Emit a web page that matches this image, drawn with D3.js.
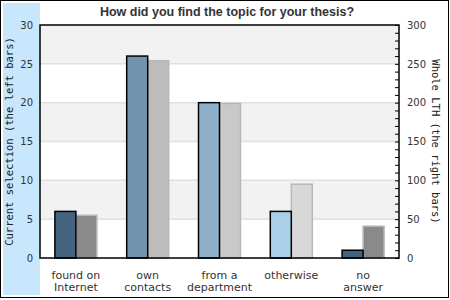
<!DOCTYPE html>
<html>
<head>
<meta charset="utf-8">
<script src="https://cdn.jsdelivr.net/npm/d3@7"></script>
<style>
  body { margin: 0; background: #fff; }
  svg { display: block; }
</style>
</head>
<body>
<svg id="chart" width="450" height="300"></svg>
<script>
// data
const categories = ["found on|Internet", "own|contacts", "from a|department", "otherwise", "no|answer"];
const currentSelection = [6, 26, 20, 6, 1];      // left axis, 0-30
const wholeLTH = [55, 254, 199, 95, 41];          // right axis, 0-300
const leftTicks = [0, 5, 10, 15, 20, 25, 30];
const rightTicks = [0, 50, 100, 150, 200, 250, 300];

const leftColors = ["#43637f", "#7394ae", "#8fb0cb", "#abcfe9", "#43637f"];
const rightColors = ["#8a8a8a", "#bdbdbd", "#c9c9c9", "#d8d8d8", "#8a8a8a"];

const svg = d3.select("#chart");
const margin = { left: 40, top: 25, right: 399, bottom: 258 };

// outer frame + left panel
svg.append("rect")
  .attr("x", 0.5).attr("y", 0.5)
  .attr("width", 448).attr("height", 297)
  .attr("fill", "#fff").attr("stroke", "#000");

svg.append("rect")
  .attr("x", 3).attr("y", 3)
  .attr("width", 37).attr("height", 292)
  .attr("fill", "#c8e7fc");

const x = d3.scaleBand()
  .domain(categories)
  .range([margin.left, margin.right])
  .paddingInner(0.415)
  .paddingOuter(0.2075);

const sub = d3.scaleBand()
  .domain(["left", "right"])
  .range([0, x.bandwidth()]);

const yL = d3.scaleLinear().domain([0, 30]).range([margin.bottom, margin.top]);
const yR = d3.scaleLinear().domain([0, 300]).range([margin.bottom, margin.top]);

// alternating background bands
const bands = d3.pairs(leftTicks);
svg.selectAll(".band")
  .data(bands)
  .enter()
  .append("rect")
  .attr("x", margin.left)
  .attr("width", margin.right - margin.left)
  .attr("y", d => yL(d[1]))
  .attr("height", d => yL(d[0]) - yL(d[1]))
  .attr("fill", (d, i) => i % 2 ? "#f2f2f2" : "#fff");

// gridlines
svg.selectAll(".grid")
  .data(leftTicks.slice(1, -1))
  .enter()
  .append("line")
  .attr("x1", margin.left).attr("x2", margin.right)
  .attr("y1", d => yL(d)).attr("y2", d => yL(d))
  .attr("stroke", "#e0e0e0")
  .attr("stroke-width", 1.5);

// bars
const groups = svg.selectAll(".group")
  .data(categories)
  .enter()
  .append("g")
  .attr("transform", d => `translate(${x(d)},0)`);

groups.append("rect")
  .attr("x", sub("right"))
  .attr("width", sub.bandwidth())
  .attr("y", (d, i) => yR(wholeLTH[i]))
  .attr("height", (d, i) => yR(0) - yR(wholeLTH[i]))
  .attr("fill", (d, i) => rightColors[i])
  .attr("stroke", "#b8b8b8")
  .attr("stroke-width", 1.5);

groups.append("rect")
  .attr("x", sub("left"))
  .attr("width", sub.bandwidth())
  .attr("y", (d, i) => yL(currentSelection[i]))
  .attr("height", (d, i) => yL(0) - yL(currentSelection[i]))
  .attr("fill", (d, i) => leftColors[i])
  .attr("stroke", "#000")
  .attr("stroke-width", 1.5);

// plot frame
svg.append("rect")
  .attr("x", margin.left).attr("y", margin.top)
  .attr("width", margin.right - margin.left)
  .attr("height", margin.bottom - margin.top)
  .attr("fill", "none")
  .attr("stroke", "#000")
  .attr("stroke-width", 1.5);

// left axis labels
svg.append("g")
  .attr("transform", `translate(${margin.left},0)`)
  .call(d3.axisLeft(yL).tickValues(leftTicks).tickSize(0).tickPadding(7))
  .call(g => g.select(".domain").remove())
  .selectAll("text")
  .attr("font-family", "DejaVu Sans")
  .attr("font-size", 10)
  .attr("fill", "#333");

// right axis: minor ticks every 10, labels every 50
svg.append("g")
  .attr("transform", `translate(${margin.right},0)`)
  .call(d3.axisLeft(yR).ticks(30).tickSize(4).tickFormat(""))
  .call(g => g.select(".domain").remove())
  .selectAll("line").attr("stroke", "#000");

svg.append("g")
  .attr("transform", `translate(${margin.right},0)`)
  .call(d3.axisRight(yR).tickValues(rightTicks).tickSize(0).tickPadding(8))
  .call(g => g.select(".domain").remove())
  .selectAll("text")
  .attr("font-family", "DejaVu Sans")
  .attr("font-size", 10)
  .attr("fill", "#333");

// category labels
const xLabels = svg.selectAll(".xlabel")
  .data(categories)
  .enter()
  .append("text")
  .attr("text-anchor", "middle")
  .attr("font-family", "DejaVu Sans")
  .attr("font-size", 11)
  .attr("fill", "#333");

xLabels.selectAll("tspan")
  .data(d => d.split("|").map(t => ({ t, c: d })))
  .enter()
  .append("tspan")
  .attr("x", d => x(d.c) + x.bandwidth() / 2)
  .attr("y", (d, i) => 278.5 + i * 12.5)
  .text(d => d.t);

// title
svg.append("text")
  .attr("x", 227)
  .attr("y", 16)
  .attr("text-anchor", "middle")
  .attr("font-family", "Liberation Sans, Arial, sans-serif")
  .attr("font-weight", "bold")
  .attr("font-size", 12.5)
  .attr("fill", "#333")
  .text("How did you find the topic for your thesis?");

// axis titles
const midY = (margin.top + margin.bottom) / 2;
svg.append("text")
  .attr("transform", `translate(13,${midY}) rotate(-90)`)
  .attr("text-anchor", "middle")
  .attr("font-family", "DejaVu Sans Mono")
  .attr("font-size", 10.5)
  .attr("fill", "#222")
  .text("Current selection (the left bars)");

svg.append("text")
  .attr("transform", `translate(432,${midY}) rotate(90)`)
  .attr("text-anchor", "middle")
  .attr("font-family", "DejaVu Sans Mono")
  .attr("font-size", 10.5)
  .attr("fill", "#222")
  .text("Whole LTH (the right bars)");
</script>
</body>
</html>
